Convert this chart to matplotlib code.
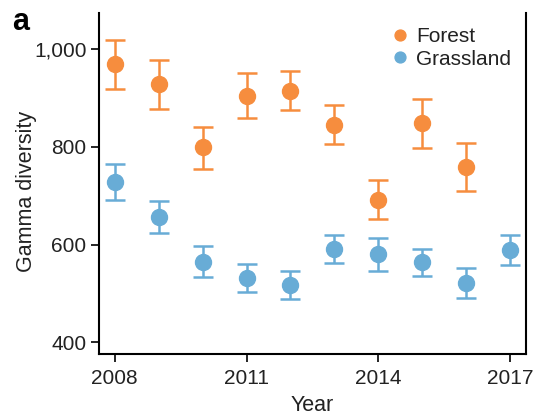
import numpy as np
import matplotlib.pyplot as plt

plt.rcParams['font.family'] = ['Liberation Sans', 'DejaVu Sans']

years = np.arange(2008, 2018)

# forest sampled 2008-2016, grassland 2008-2017
forest_years = years[:9]
forest_mean = [970, 928, 800, 904, 915, 845, 692, 848, 759]
forest_lo = [919, 878, 755, 859, 875, 805, 652, 798, 709]
forest_hi = [1019, 978, 841, 951, 955, 885, 732, 897, 808]

grass_years = years
grass_mean = [728, 657, 564, 531, 517, 590, 581, 564, 521, 588]
grass_lo = [691, 624, 533, 502, 489, 563, 545, 536, 491, 558]
grass_hi = [765, 690, 596, 560, 545, 619, 614, 590, 552, 619]

c_forest = '#f68d3e'
c_grass = '#68acd6'

fig = plt.figure(figsize=(5.35, 4.16), dpi=100)
ax = fig.add_axes([0.185, 0.149, 0.798, 0.820])


def draw(x, m, lo, hi, color, label):
    m = np.array(m)
    err = [m - np.array(lo), np.array(hi) - m]
    ax.errorbar(x, m, yerr=err, fmt='none', ecolor=color, elinewidth=1.8,
                capsize=7.5, capthick=1.8)
    ax.plot(x, m, 'o', color=color, markersize=11.5, label=label)


draw(forest_years, forest_mean, forest_lo, forest_hi, c_forest, 'Forest')
draw(grass_years, grass_mean, grass_lo, grass_hi, c_grass, 'Grassland')

ax.set_xlim(2007.64, 2017.36)
ax.set_ylim(376, 1074)
ax.set_xticks([2008, 2011, 2014, 2017])
ax.set_yticks([400, 600, 800, 1000])
ax.set_yticklabels(['400', '600', '800', '1,000'])
ax.set_xlabel('Year', fontsize=15.5, labelpad=4.5, color='#222222')
ax.set_ylabel('Gamma diversity', fontsize=15.5, labelpad=0, color='#222222')
ax.yaxis.set_label_coords(-0.145, 0.478)

ax.spines['top'].set_visible(False)
for s in ['left', 'bottom', 'right']:
    ax.spines[s].set_linewidth(1.5)
ax.tick_params(axis='both', labelsize=15, length=6, width=1.2,
               labelcolor='#222222')
ax.tick_params(axis='x', pad=5)
ax.tick_params(axis='y', pad=3, right=False)

leg = ax.legend(loc='upper right', bbox_to_anchor=(1.0, 1.0), frameon=False,
                fontsize=15, handletextpad=0.2, borderaxespad=0.3,
                labelspacing=0.15, markerscale=0.68, handlelength=1.2)
for t in leg.get_texts():
    t.set_color('#222222')

fig.text(0.022, 0.928, 'a', fontsize=22, fontweight='bold')

fig.savefig('out.png', dpi=100)
